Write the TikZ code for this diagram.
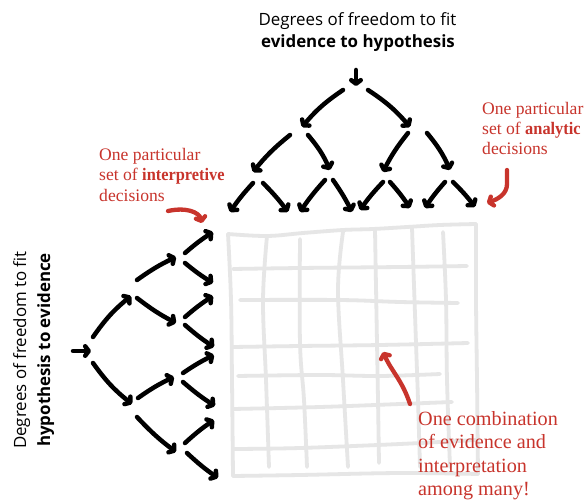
\documentclass[tikz,border=0pt]{standalone}
\usepackage{fontspec}
\setmainfont{Liberation Serif}
\newfontfamily\semibserif[FakeStretch=0.93]{Liberation Serif}
\newfontfamily\headsans{Open Sans}
\usetikzlibrary{arrows.meta}
\definecolor{annot}{HTML}{C8342C}
\definecolor{gridgray}{HTML}{E6E6E6}
\begin{document}
\begin{tikzpicture}[x=1pt,y=-1pt,
  treearrow/.style={line width=4.5pt, line cap=round, black,
    -{Straight Barb[round,length=3.6pt,width=9.5pt]}},
  redarrow/.style={line width=4.3pt, line cap=round, annot,
    -{Straight Barb[round,length=3.6pt,width=9.5pt]}},
  gridline/.style={gridgray, line width=3.8pt, line cap=round, line join=round},
  headtext/.style={inner sep=0pt, anchor=base, font=\headsans\fontsize{16.9}{20}\selectfont},
  notetext/.style={inner sep=0pt, anchor=base west, text=annot, font=\fontsize{17.6}{20}\selectfont},
  bignote/.style={inner sep=0pt, anchor=base west, text=annot, font=\fontsize{20.2}{23}\selectfont},
]
\useasboundingbox[fill=white] (0,0) rectangle (588,502);

% ---------- grid ----------
\draw[gridline] plot[smooth, tension=0.6] coordinates {(228,234) (267,236) (303,233) (343,230) (373,229) (407,227) (440,225) (476,224)};
\draw[gridline] plot[smooth, tension=0.6] coordinates {(476,224) (476,300) (477,380) (478,474)};
\draw[gridline] plot[smooth, tension=0.6] coordinates {(233,476) (300,475) (400,473) (478,474)};
\draw[gridline] plot[smooth, tension=0.6] coordinates {(228,234) (231,300) (232,380) (233,476)};
% verticals
\draw[gridline] plot[smooth, tension=0.6] coordinates {(267,236) (263,300) (266,380) (269,467)};
\draw[gridline] plot[smooth, tension=0.6] coordinates {(300,239) (300,343) (304,400) (307,467)};
\draw[gridline] plot[smooth, tension=0.6] coordinates {(343,232) (338,290) (343,380) (348,467)};
\draw[gridline] plot[smooth, tension=0.6] coordinates {(375,230) (377,343) (378,400) (379,463)};
\draw[gridline] plot[smooth, tension=0.6] coordinates {(412,228) (416,343) (418,400) (420,467)};
\draw[gridline] plot[smooth, tension=0.6] coordinates {(443,232) (446,300) (447,380) (450,467)};
% horizontals
\draw[gridline] plot[smooth, tension=0.6] coordinates {(233,269) (300,268) (400,267) (467,266)};
\draw[gridline] plot[smooth, tension=0.6] coordinates {(240,300) (340,300) (400,302) (458,303)};
\draw[gridline] plot[smooth, tension=0.6] coordinates {(233,347) (300,346) (380,345) (468,343)};
\draw[gridline] plot[smooth, tension=0.6] coordinates {(238,376) (320,375) (380,376) (440,374)};
\draw[gridline] plot[smooth, tension=0.6] coordinates {(233,409) (320,407) (400,404) (452,402)};
\draw[gridline] plot[smooth, tension=0.6] coordinates {(233,449) (300,448) (400,444) (476,440)};

% ---------- top tree ----------
\foreach \sx/\sy/\ex/\ey/\b in {
  356/70/356/86/0,
  343/90/302/127/-8, 368/90/410/127/8,
  290/135/253/172/-6, 308/135/330/170/8, 408/133/383/172/-6, 427/133/450/170/8,
  253/183/230/212/-4, 263/183/288/212/4, 325/180/300/212/-4, 333/180/352/212/4,
  383/182/360/210/-4, 390/182/410/208/4, 445/182/425/208/-4, 453/182/475/207/4}
  \draw[treearrow] (\sx,\sy) to[bend left=\b] (\ex,\ey);

% ---------- left tree ----------
\foreach \sx/\sy/\ex/\ey/\b in {
  73/351/91/351/0,
  93/337/131/296/8, 93/363/132/404/-8,
  137/280/176/257/5, 137/298/176/323/-5, 138/398/174/377/5, 137/417/176/452/-5,
  185/253/213/232/4, 185/263/213/283/-4, 185/317/213/296/4, 185/325/214/347/-4,
  183/373/214/355/4, 183/382/215/406/-4, 185/443/214/420/4, 187/453/218/478/-4}
  \draw[treearrow] (\sx,\sy) to[bend left=\b] (\ex,\ey);

% ---------- headings ----------
\node[headtext] (top1) at (357.5,26) {Degrees of freedom to fit};
\node[headtext] (top2) at (358,47.5) {\bfseries evidence to hypothesis};
\node[headtext, rotate=90] (side1) at (26,350) {Degrees of freedom to fit};
\node[headtext, rotate=90] (side2) at (50,350) {\bfseries hypothesis to evidence};

% ---------- red notes ----------
\node[notetext] (li1) at (99,161) {One particular};
\node[notetext] (li2) at (99,181) {set of {\semibserif\bfseries interpretive}};
\node[notetext] (li3) at (99,202) {decisions};

\node[notetext] (ra1) at (482,115) {One particular};
\node[notetext] (ra2) at (482,135) {set of {\semibserif\bfseries analytic}};
\node[notetext] (ra3) at (482,155) {decisions};

\node[bignote] (bc1) at (418,425) {One combination};
\node[bignote] (bc2) at (418,448) {of evidence and};
\node[bignote] (bc3) at (418,472) {interpretation};
\node[bignote] (bc4) at (418,495) {among many!};

% ---------- red arrows ----------
\coordinate (la0) at (168,211);
\coordinate (la1) at (202,223);
\draw[redarrow] (la0) .. controls (186,207) and (199,212) .. (la1);
\coordinate (ra0) at (507,170);
\coordinate (ram) at (507,184);
\coordinate (ra1e) at (487,203);
\draw[redarrow] (ra0) -- (ram) .. controls (507,194) and (498,199) .. (ra1e);
\coordinate (ga0) at (410,404);
\coordinate (ga1) at (383,352);
\draw[redarrow] (ga0) .. controls (402,380) and (392,372) .. (ga1);
\end{tikzpicture}
\end{document}
